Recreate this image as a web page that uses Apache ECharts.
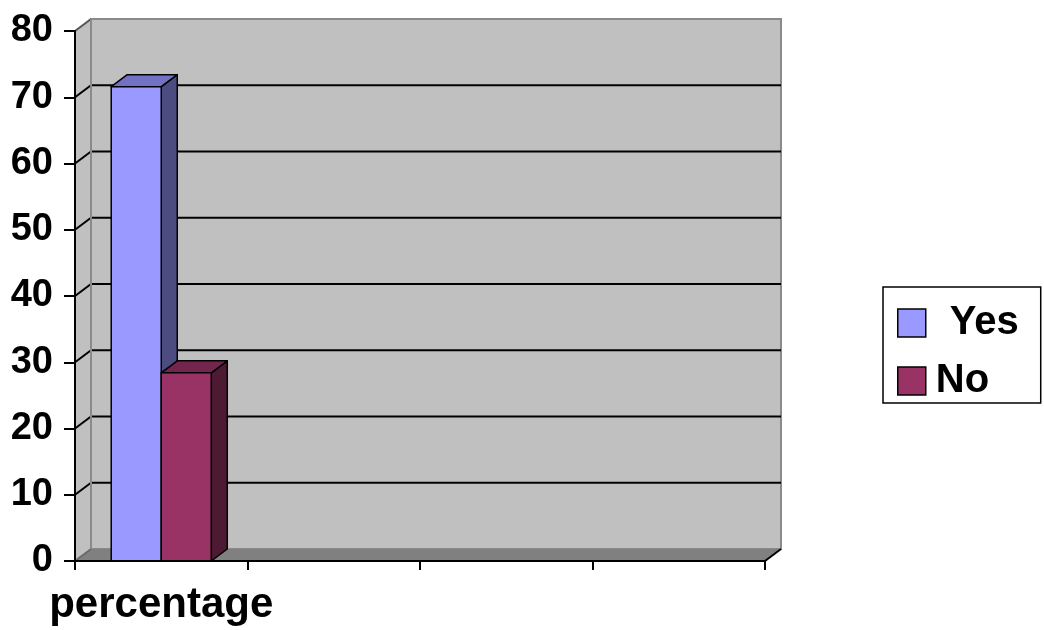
<!DOCTYPE html>
<html>
<head>
<meta charset="utf-8">
<script src="https://cdn.jsdelivr.net/npm/echarts@6/dist/echarts.min.js"></script>
<style>
  html, body { margin: 0; padding: 0; background: #fff; }
  #chart { width: 1044px; height: 630px; }
</style>
</head>
<body>
<div id="chart"></div>
<script>
// Data
const categories = ['percentage', '', '', ''];
const seriesNames = ['Yes', 'No'];
const yesValues = [71.6];
const noValues = [28.4];
const yTicks = [0, 10, 20, 30, 40, 50, 60, 70, 80];

// Visual constants for the pseudo-3D look
const DEPTH_X = 16;
const DEPTH_Y = -12;
const BAR_FRAC = 0.29;
const FONT = '"Liberation Sans", Arial, sans-serif';

const faceColors = {
  Yes: { front: '#9999ff', top: '#7272c4', side: '#4c4c80' },
  No:  { front: '#993366', top: '#73264d', side: '#4d1a33' }
};

function barRenderer(slot, colors) {
  return function (params, api) {
    const cat = api.value(0);
    const val = api.value(1);
    const base = api.coord([cat, 0]);
    const top = api.coord([cat, val]);
    const band = api.size([1, 0])[0];
    const w = band * BAR_FRAC;
    const x0 = base[0] - w + slot * w;
    const x1 = x0 + w;
    const ty = top[1], by = base[1];
    const stroke = { stroke: '#000', lineWidth: 1.5, lineJoin: 'round' };
    return {
      type: 'group',
      children: [
        { type: 'polygon', shape: { points: [[x1, ty], [x1 + DEPTH_X, ty + DEPTH_Y], [x1 + DEPTH_X, by + DEPTH_Y], [x1, by]] },
          style: Object.assign({ fill: colors.side }, stroke) },
        { type: 'polygon', shape: { points: [[x0, ty], [x0 + DEPTH_X, ty + DEPTH_Y], [x1 + DEPTH_X, ty + DEPTH_Y], [x1, ty]] },
          style: Object.assign({ fill: colors.top }, stroke) },
        { type: 'rect', shape: { x: x0, y: ty, width: w, height: by - ty },
          style: Object.assign({ fill: colors.front }, stroke) }
      ]
    };
  };
}

// Back wall, side wall, floor and gridlines drawn from the grid rectangle
function wallRenderer(params, api) {
  const cs = params.coordSys;
  const L = cs.x, T = cs.y, R = cs.x + cs.width, B = cs.y + cs.height;
  const children = [];
  // back wall
  children.push({ type: 'rect', shape: { x: L + DEPTH_X, y: T + DEPTH_Y, width: cs.width, height: cs.height },
    style: { fill: '#c0c0c0', stroke: '#8a8a8a', lineWidth: 2 } });
  // side wall
  children.push({ type: 'polygon', shape: { points: [[L, T], [L + DEPTH_X, T + DEPTH_Y], [L + DEPTH_X, B + DEPTH_Y], [L, B]] },
    style: { fill: '#c0c0c0' } });
  // floor
  children.push({ type: 'polygon', shape: { points: [[L, B], [L + DEPTH_X, B + DEPTH_Y], [R + DEPTH_X, B + DEPTH_Y], [R, B]] },
    style: { fill: '#808080' } });
  children.push({ type: 'line', shape: { x1: R, y1: B, x2: R + DEPTH_X, y2: B + DEPTH_Y },
    style: { stroke: '#000', lineWidth: 2 } });
  children.push({ type: 'line', shape: { x1: L, y1: B, x2: L + DEPTH_X, y2: B + DEPTH_Y },
    style: { stroke: '#6a6a6a', lineWidth: 2 } });
  // gridlines
  yTicks.forEach(function (v) {
    if (v === 0) return;
    const y = api.coord([0, v])[1];
    const last = v === yTicks[yTicks.length - 1];
    children.push({ type: 'line', shape: { x1: L, y1: y, x2: L + DEPTH_X, y2: y + DEPTH_Y },
      style: { stroke: last ? '#555' : '#000', lineWidth: 2 } });
    if (!last) {
      children.push({ type: 'line', shape: { x1: L + DEPTH_X, y1: y + DEPTH_Y, x2: R + DEPTH_X, y2: y + DEPTH_Y },
        style: { stroke: '#000', lineWidth: 2 } });
    }
  });
  // left edge of the back wall
  children.push({ type: 'line', shape: { x1: L + DEPTH_X, y1: T + DEPTH_Y, x2: L + DEPTH_X, y2: B + DEPTH_Y },
    style: { stroke: '#8a8a8a', lineWidth: 2 } });
  return { type: 'group', children: children };
}

const chart = echarts.init(document.getElementById('chart'), null, { renderer: 'canvas' });

chart.setOption({
  animation: false,
  backgroundColor: '#ffffff',
  grid: { left: 75, top: 31, right: 279, bottom: 69, containLabel: false },
  legend: {
    orient: 'vertical',
    left: 883,
    top: 287,
    padding: [14, 22, 0, 14],
    itemGap: 14,
    itemWidth: 28,
    itemHeight: 28,
    borderColor: '#000',
    borderWidth: 1.5,
    icon: 'rect',
    data: [
      { name: 'Yes', itemStyle: { color: faceColors.Yes.front, borderColor: '#000', borderWidth: 1.5 } },
      { name: 'No', itemStyle: { color: faceColors.No.front, borderColor: '#000', borderWidth: 1.5 } }
    ],
    formatter: function (name) { return name === 'Yes' ? '{y|' + name + '}' : '{n|' + name + '}'; },
    textStyle: {
      fontFamily: FONT, fontWeight: 'bold', fontSize: 40, color: '#000', lineHeight: 44,
      rich: {
        y: { fontFamily: FONT, fontWeight: 'bold', fontSize: 40, color: '#000', padding: [0, 0, 0, 19] },
        n: { fontFamily: FONT, fontWeight: 'bold', fontSize: 40, color: '#000', padding: [0, 0, 0, 5] }
      }
    }
  },
  xAxis: {
    type: 'category',
    data: categories,
    boundaryGap: true,
    z: 10,
    axisLine: { show: true, lineStyle: { color: '#000', width: 2 } },
    axisTick: { show: true, interval: 0, length: 9, lineStyle: { color: '#000', width: 2 } },
    axisLabel: { interval: 0, margin: 23, fontFamily: FONT, fontWeight: 'bold', fontSize: 42, color: '#000' },
    splitLine: { show: false }
  },
  yAxis: {
    type: 'value',
    min: 0,
    max: 80,
    interval: 10,
    z: 10,
    axisLine: { show: true, lineStyle: { color: '#000', width: 2 } },
    axisTick: { show: true, length: 11, lineStyle: { color: '#000', width: 2 } },
    axisLabel: { margin: 22, fontFamily: FONT, fontWeight: 'bold', fontSize: 38, color: '#000' },
    splitLine: { show: false }
  },
  series: [
    {
      name: 'walls',
      type: 'custom',
      z: 0,
      silent: true,
      renderItem: wallRenderer,
      data: [[0, 0]]
    },
    {
      name: 'Yes',
      type: 'custom',
      z: 2,
      itemStyle: { color: faceColors.Yes.front },
      renderItem: barRenderer(0, faceColors.Yes),
      data: yesValues.map(function (v, i) { return [i, v]; })
    },
    {
      name: 'No',
      type: 'custom',
      z: 3,
      itemStyle: { color: faceColors.No.front },
      renderItem: barRenderer(1, faceColors.No),
      data: noValues.map(function (v, i) { return [i, v]; })
    }
  ]
});
</script>
</body>
</html>
